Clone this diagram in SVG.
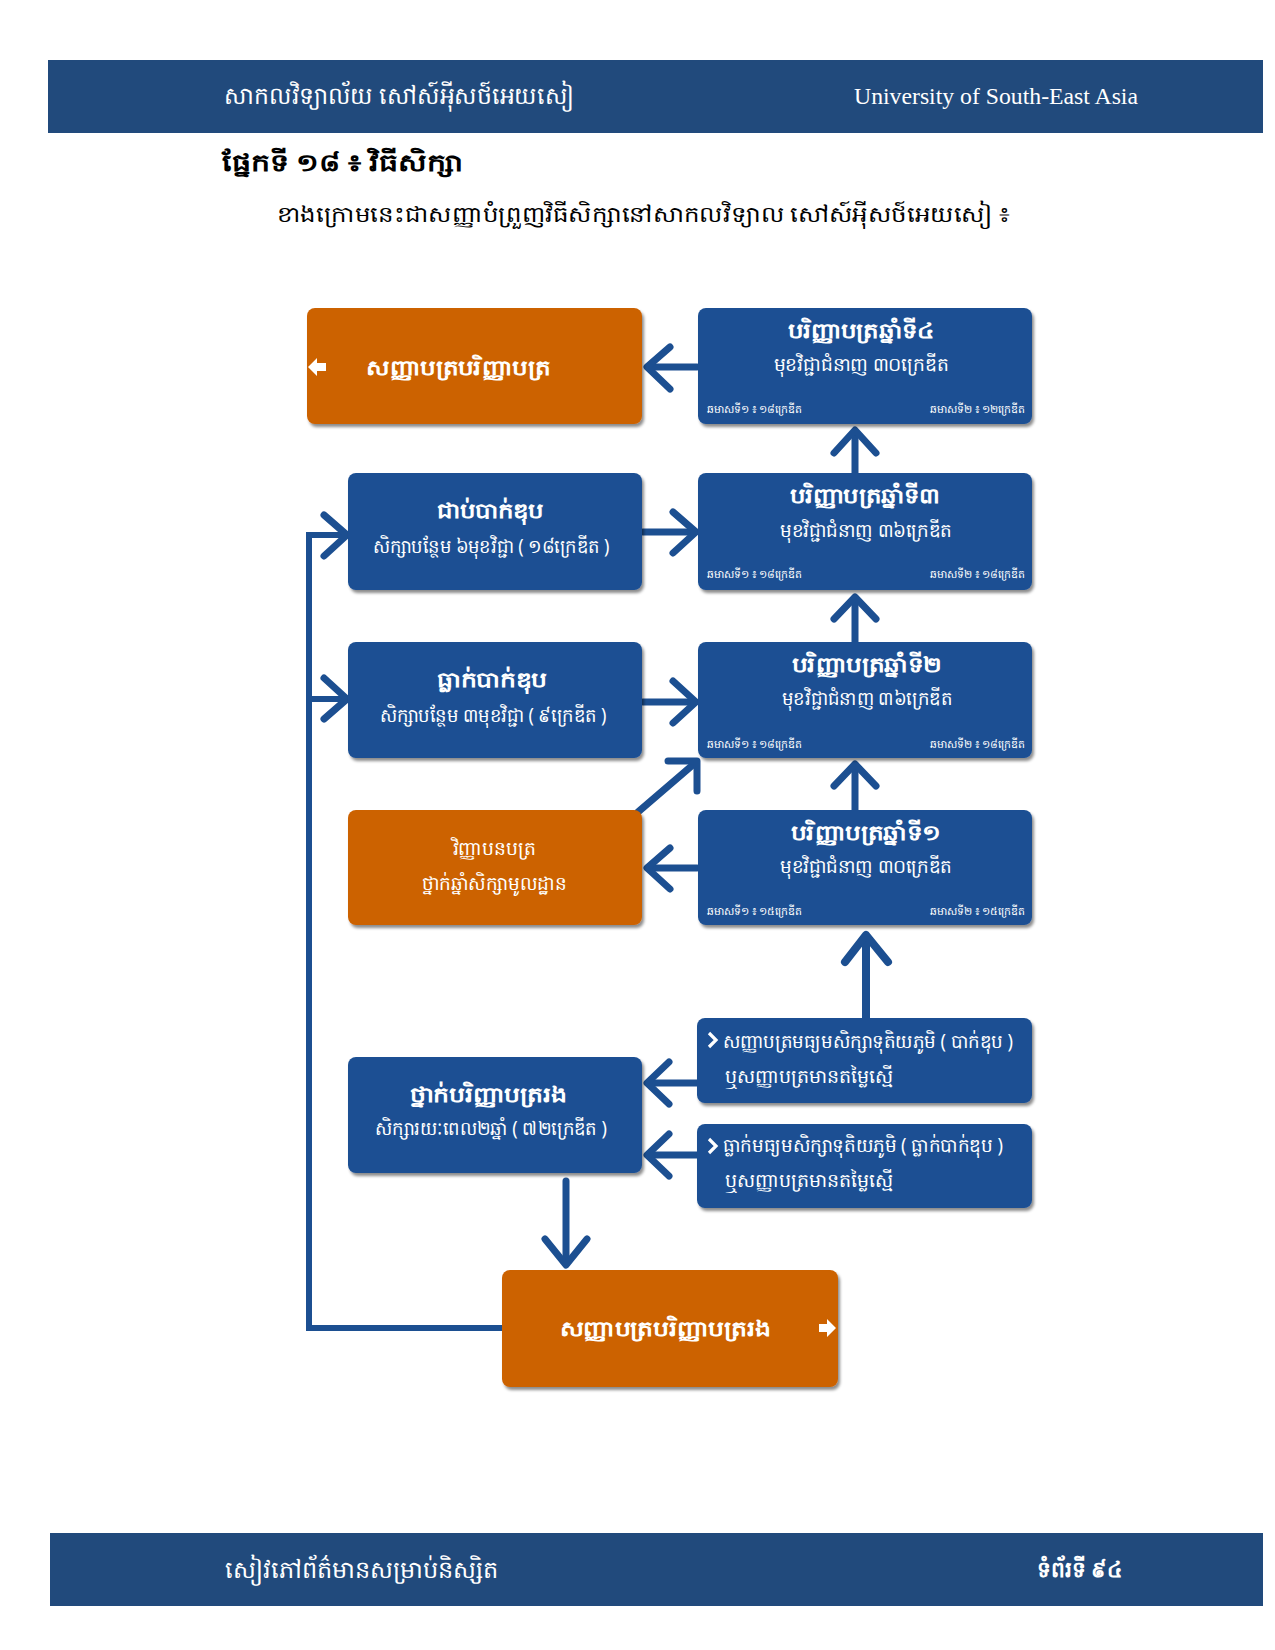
<svg xmlns="http://www.w3.org/2000/svg" width="1275" height="1650" viewBox="0 0 1275 1650">
<defs>
<filter id="sh" x="-10%" y="-10%" width="125%" height="135%">
<feDropShadow dx="2" dy="3" stdDeviation="1.8" flood-color="#000" flood-opacity="0.45"/>
</filter>
<style>
.bar{fill:#214a7c}
.blue{fill:#1b4f93}
.orange{fill:#cc6200}
.k{font-family:"Noto Sans","DejaVu Sans",sans-serif;fill:#fff}
.kd{font-family:"Noto Sans","DejaVu Sans",sans-serif;fill:#000}
.t{font-size:21px;font-weight:bold;text-anchor:middle}
.s{font-size:19px;text-anchor:middle}
.f{font-size:11px}
.l{font-size:19px}
.con{fill:none;stroke:#1c4f91;stroke-width:7;stroke-linecap:round;stroke-linejoin:round}
.thin{fill:none;stroke:#1c4f91;stroke-width:6;stroke-linejoin:miter}
</style>
</defs>
<rect width="1275" height="1650" fill="#fff"/>

<g id="header">
<rect class="bar" x="48" y="60" width="1215" height="73"/>
<text class="k" x="224" y="104" font-size="24" textLength="350" lengthAdjust="spacingAndGlyphs">សាកលវិទ្យាល័យ សៅស៍អុីសថ៍អេយសៀ</text>
<text x="854" y="104" font-family="Liberation Serif" font-size="23" fill="#fff" textLength="284" lengthAdjust="spacingAndGlyphs">University of South-East Asia</text>
</g>

<g id="heading">
<text class="kd" x="222" y="171" font-size="24" font-weight="bold" textLength="241" lengthAdjust="spacingAndGlyphs">ផ្នែកទី ១៨ ៖ វិធីសិក្សា</text>
<text class="kd" x="277" y="222" font-size="22" textLength="733" lengthAdjust="spacingAndGlyphs">ខាងក្រោមនេះជាសញ្ញាបំព្រួញវិធីសិក្សានៅសាកលវិទ្យាល សៅស៍អុីសថ៍អេយសៀ ៖</text>
</g>

<g id="connectors">
<polyline class="thin" points="502,1328 309,1328 309,535 344,535"/>
<line class="thin" x1="309" y1="699" x2="344" y2="699"/>
<polyline class="con" points="324,515 347,535 324,556"/>
<polyline class="con" points="324,678 347,699 324,719"/>
<line class="con" x1="697" y1="367" x2="648" y2="367"/>
<polyline class="con" points="670,347 647,367 670,389"/>
<line class="con" x1="855" y1="473" x2="855" y2="431"/>
<polyline class="con" points="834,453 855,430 876,453"/>
<line class="con" x1="643" y1="532" x2="694" y2="532"/>
<polyline class="con" points="673,512 696,532 673,553"/>
<line class="con" x1="855" y1="642" x2="855" y2="598"/>
<polyline class="con" points="834,619 855,597 876,619"/>
<line class="con" x1="643" y1="702" x2="694" y2="702"/>
<polyline class="con" points="673,681 696,702 673,723"/>
<line class="con" x1="638" y1="812" x2="695" y2="763"/>
<polyline class="con" points="668,761 697,761 697,791"/>
<line class="con" x1="855" y1="810" x2="855" y2="766"/>
<polyline class="con" points="834,786 855,764 876,786"/>
<line class="con" x1="697" y1="868" x2="648" y2="868"/>
<polyline class="con" points="670,848 647,868 670,889"/>
<line class="con" x1="866" y1="1018" x2="866" y2="937" style="stroke-width:8"/>
<polyline class="con" points="845,962 866,935 888,962" style="stroke-width:8"/>
<line class="con" x1="697" y1="1083" x2="648" y2="1083"/>
<polyline class="con" points="669,1062 647,1083 669,1104"/>
<line class="con" x1="697" y1="1155" x2="648" y2="1155"/>
<polyline class="con" points="669,1134 647,1155 669,1176"/>
<line class="con" x1="566" y1="1181" x2="566" y2="1264"/>
<polyline class="con" points="545,1239 566,1265 587,1239"/>
</g>

<g id="n-degree">
<rect class="orange" x="307" y="308" width="335" height="116" rx="8" filter="url(#sh)"/>
<polygon points="308,367 317,358 317,363 326,363 326,371 317,371 317,376" fill="#fff"/>
<text class="k t" x="458" y="375" font-size="22" textLength="184" lengthAdjust="spacingAndGlyphs">សញ្ញាបត្របរិញ្ញាបត្រ</text>
</g>

<g id="n-year4">
<rect class="blue" x="698" y="308" width="334" height="116" rx="8" filter="url(#sh)"/>
<text class="k t" x="861" y="338" textLength="147" lengthAdjust="spacingAndGlyphs">បរិញ្ញាបត្រឆ្នាំទី៤</text>
<text class="k s" x="861" y="371" textLength="175" lengthAdjust="spacingAndGlyphs">មុខវិជ្ជាជំនាញ ៣០ក្រេឌីត</text>
<text class="k f" x="707" y="413" textLength="95" lengthAdjust="spacingAndGlyphs">ឆមាសទី១ ៖ ១៨ក្រេឌីត</text>
<text class="k f" x="930" y="413" textLength="95" lengthAdjust="spacingAndGlyphs">ឆមាសទី២ ៖ ១២ក្រេឌីត</text>
</g>

<g id="n-year3">
<rect class="blue" x="698" y="473" width="334" height="117" rx="8" filter="url(#sh)"/>
<text class="k t" x="865" y="503" textLength="150" lengthAdjust="spacingAndGlyphs">បរិញ្ញាបត្រឆ្នាំទី៣</text>
<text class="k s" x="866" y="537" textLength="172" lengthAdjust="spacingAndGlyphs">មុខវិជ្ជាជំនាញ ៣៦ក្រេឌីត</text>
<text class="k f" x="707" y="578" textLength="95" lengthAdjust="spacingAndGlyphs">ឆមាសទី១ ៖ ១៨ក្រេឌីត</text>
<text class="k f" x="930" y="578" textLength="95" lengthAdjust="spacingAndGlyphs">ឆមាសទី២ ៖ ១៨ក្រេឌីត</text>
</g>

<g id="n-year2">
<rect class="blue" x="698" y="642" width="334" height="116" rx="8" filter="url(#sh)"/>
<text class="k t" x="867" y="672" textLength="150" lengthAdjust="spacingAndGlyphs">បរិញ្ញាបត្រឆ្នាំទី២</text>
<text class="k s" x="867" y="705" textLength="170" lengthAdjust="spacingAndGlyphs">មុខវិជ្ជាជំនាញ ៣៦ក្រេឌីត</text>
<text class="k f" x="707" y="748" textLength="95" lengthAdjust="spacingAndGlyphs">ឆមាសទី១ ៖ ១៨ក្រេឌីត</text>
<text class="k f" x="930" y="748" textLength="95" lengthAdjust="spacingAndGlyphs">ឆមាសទី២ ៖ ១៨ក្រេឌីត</text>
</g>

<g id="n-year1">
<rect class="blue" x="698" y="810" width="334" height="115" rx="8" filter="url(#sh)"/>
<text class="k t" x="866" y="840" textLength="150" lengthAdjust="spacingAndGlyphs">បរិញ្ញាបត្រឆ្នាំទី១</text>
<text class="k s" x="866" y="873" textLength="172" lengthAdjust="spacingAndGlyphs">មុខវិជ្ជាជំនាញ ៣០ក្រេឌីត</text>
<text class="k f" x="707" y="915" textLength="95" lengthAdjust="spacingAndGlyphs">ឆមាសទី១ ៖ ១៥ក្រេឌីត</text>
<text class="k f" x="930" y="915" textLength="95" lengthAdjust="spacingAndGlyphs">ឆមាសទី២ ៖ ១៥ក្រេឌីត</text>
</g>

<g id="n-pass">
<rect class="blue" x="348" y="473" width="294" height="117" rx="8" filter="url(#sh)"/>
<text class="k t" x="490" y="518" textLength="107" lengthAdjust="spacingAndGlyphs">ជាប់បាក់ឌុប</text>
<text class="k s" x="491" y="553" textLength="237" lengthAdjust="spacingAndGlyphs">សិក្សាបន្ថែម ៦មុខវិជ្ជា ( ១៨ក្រេឌីត )</text>
</g>

<g id="n-fail">
<rect class="blue" x="348" y="642" width="294" height="116" rx="8" filter="url(#sh)"/>
<text class="k t" x="492" y="687" textLength="110" lengthAdjust="spacingAndGlyphs">ធ្លាក់បាក់ឌុប</text>
<text class="k s" x="493" y="722" textLength="227" lengthAdjust="spacingAndGlyphs">សិក្សាបន្ថែម ៣មុខវិជ្ជា ( ៩ក្រេឌីត )</text>
</g>

<g id="n-foundation">
<rect class="orange" x="348" y="810" width="294" height="115" rx="8" filter="url(#sh)"/>
<text class="k s" x="494" y="855" textLength="83" lengthAdjust="spacingAndGlyphs">វិញ្ញាបនបត្រ</text>
<text class="k s" x="494" y="890" textLength="145" lengthAdjust="spacingAndGlyphs">ថ្នាក់ឆ្នាំសិក្សាមូលដ្ឋាន</text>
</g>

<g id="n-associate">
<rect class="blue" x="348" y="1057" width="294" height="116" rx="8" filter="url(#sh)"/>
<text class="k t" x="488" y="1102" textLength="157" lengthAdjust="spacingAndGlyphs">ថ្នាក់បរិញ្ញាបត្ររង</text>
<text class="k s" x="491" y="1135" textLength="232" lengthAdjust="spacingAndGlyphs">សិក្សារយៈពេល២ឆ្នាំ ( ៧២ក្រេឌីត )</text>
</g>

<g id="n-hs-pass">
<rect class="blue" x="697" y="1018" width="335" height="85" rx="8" filter="url(#sh)"/>
<polyline points="709,1033 716,1040 709,1047" fill="none" stroke="#fff" stroke-width="3.2"/>
<text class="k l" x="723" y="1048" textLength="290" lengthAdjust="spacingAndGlyphs">សញ្ញាបត្រមធ្យមសិក្សាទុតិយភូមិ ( បាក់ឌុប )</text>
<text class="k l" x="725" y="1083" textLength="168" lengthAdjust="spacingAndGlyphs">ឬសញ្ញាបត្រមានតម្លៃស្មើ</text>
</g>

<g id="n-hs-fail">
<rect class="blue" x="697" y="1124" width="335" height="84" rx="8" filter="url(#sh)"/>
<polyline points="709,1139 716,1146 709,1153" fill="none" stroke="#fff" stroke-width="3.2"/>
<text class="k l" x="723" y="1152" textLength="280" lengthAdjust="spacingAndGlyphs">ធ្លាក់មធ្យមសិក្សាទុតិយភូមិ ( ធ្លាក់បាក់ឌុប )</text>
<text class="k l" x="725" y="1187" textLength="168" lengthAdjust="spacingAndGlyphs">ឬសញ្ញាបត្រមានតម្លៃស្មើ</text>
</g>

<g id="n-assoc-degree">
<rect class="orange" x="502" y="1270" width="336" height="117" rx="8" filter="url(#sh)"/>
<text class="k t" x="665" y="1336" font-size="22" textLength="211" lengthAdjust="spacingAndGlyphs">សញ្ញាបត្របរិញ្ញាបត្ររង</text>
<polygon points="836,1328 827,1319 827,1324 819,1324 819,1332 827,1332 827,1337" fill="#fff"/>
</g>

<g id="footer">
<rect class="bar" x="50" y="1533" width="1213" height="73"/>
<text class="k" x="225" y="1578" font-size="24" textLength="273" lengthAdjust="spacingAndGlyphs">សៀវភៅព័ត៌មានសម្រាប់និស្សិត</text>
<text class="k" x="1037" y="1577" font-size="22" font-weight="bold" textLength="86" lengthAdjust="spacingAndGlyphs">ទំព័រទី ៩៤</text>
</g>
</svg>
